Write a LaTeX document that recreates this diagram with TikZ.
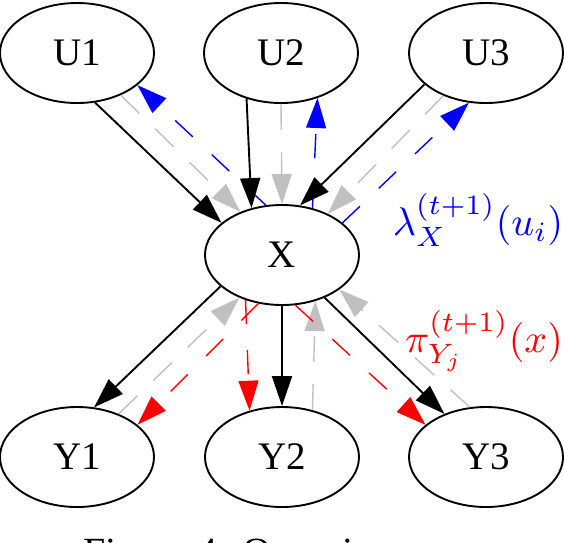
\documentclass[tikz,border=0pt]{standalone}
\usepackage{fontspec}
\setmainfont{Liberation Serif}
\usetikzlibrary{arrows.meta,shapes.geometric}
\definecolor{edgegray}{RGB}{192,192,192}
\begin{document}
\begin{tikzpicture}[x=1pt,y=-1pt,
  nd/.style={draw, ellipse, line width=1.9pt, minimum width=154pt, minimum height=100pt, inner sep=0pt, font=\fontsize{39}{44}\selectfont},
  tipped/.style={-{Triangle[length=30pt,width=20pt]}},
  solidedge/.style={tipped, line width=1.9pt, black},
  grayedge/.style={tipped, line width=1.4pt, edgegray, dash pattern=on 26pt off 22pt},
  blueedge/.style={tipped, line width=1.4pt, blue, dash pattern=on 24pt off 26pt},
  rededge/.style={tipped, line width=1.4pt, red, dash pattern=on 24pt off 26pt},
  lbl/.style={inner sep=0pt, scale=4}
]
\useasboundingbox (0,0) rectangle (564,542);
\clip (0,0) rectangle (564,542);

\node[nd] (U1) at (77,53) {U1};
\node[nd] (U2) at (281,53) {U2};
\node[nd] (U3) at (486,53) {U3};
\node[nd] (X) at (282,255) {X};
\node[nd] (Y1) at (77,457) {Y1};
\node[nd] (Y2) at (282,457) {Y2};
\node[nd] (Y3) at (486,457) {Y3};

% parents -> X
\draw[solidedge] (U1.-70) -- (X.152);
\draw[grayedge] (U1.-44) -- (X.134);
\draw[blueedge] (X.108) -- (U1.-28);

\draw[solidedge] (U2.-127) -- (X.123);
\draw[grayedge] (U2.-90) -- (X.90);
\draw[blueedge] (X.57) -- (U2.-51);

\draw[solidedge] (U3.-153) -- (X.70);
\draw[grayedge] (U3.-135) -- (X.42);
\draw[blueedge] (X.28) -- (U3.-109);

% X -> children
\draw[solidedge] (X.-153) -- (Y1.71);
\draw[grayedge] (Y1.46) -- (X.-135);
\draw[rededge] (X.-116) -- (Y1.28);

\draw[solidedge] (X.-90) -- (Y2.90);
\draw[rededge] (X.-129) -- (Y2.125);
\draw[grayedge] (Y2.57) -- (X.-54);

\draw[solidedge] (X.-45) -- (Y3.134);
\draw[grayedge] (Y3.108) -- (X.-31);
\draw[rededge] (X.-75) -- (Y3.152);

\node[lbl, blue] (lam) at (478,220) {$\lambda_X^{(t+1)}(u_i)$};
\node[lbl, red] (pi) at (484,341) {$\pi_{Y_j}^{(t+1)}(x)$};

\node[anchor=base west, inner sep=0pt, font=\fontsize{40}{44}\selectfont] (cap) at (83,565) {Figure 4: Overview};
\end{tikzpicture}
\end{document}
